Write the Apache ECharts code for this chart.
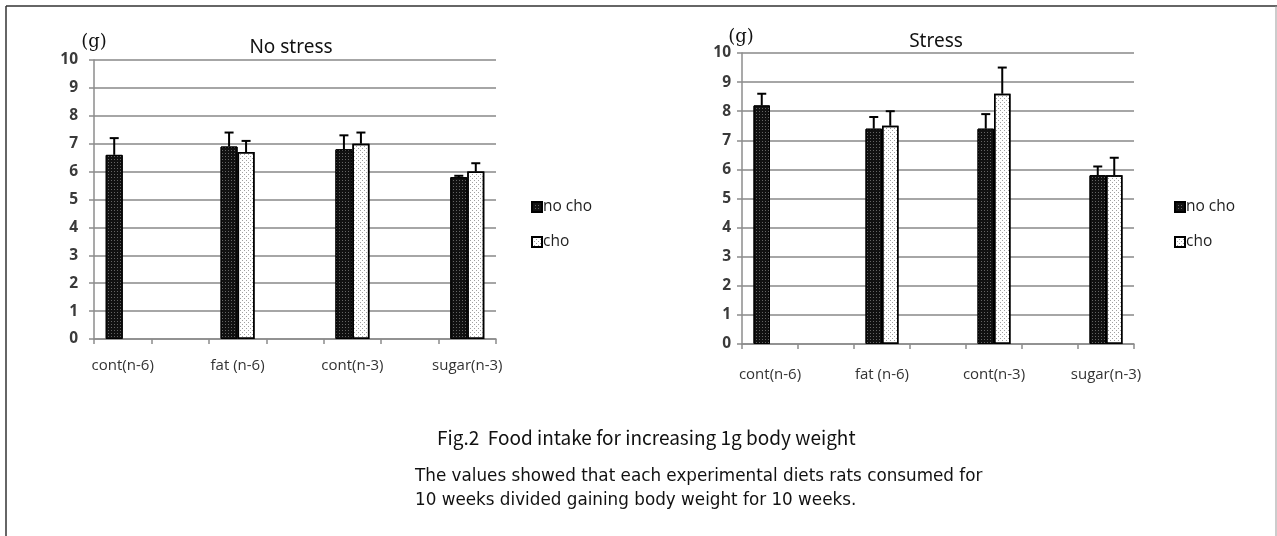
<!DOCTYPE html>
<html>
<head>
<meta charset="utf-8">
<script src="https://cdn.jsdelivr.net/npm/echarts@6/dist/echarts.min.js"></script>
<style>
  html, body { margin: 0; padding: 0; background: #fff; }
  #chart { width: 1277px; height: 536px; }
</style>
</head>
<body>
<div id="chart"></div>
<script>
// Diet groups shown along the x axis of both panels
const categories = ['cont(n-6)', 'fat (n-6)', 'cont(n-3)', 'sugar(n-3)'];
const seriesNames = ['no cho', 'cho'];

// No stress panel: mean food intake (g) and upper error
const noStressNoCho = [6.6, 6.9, 6.8, 5.8];
const noStressNoChoErr = [0.6, 0.5, 0.5, 0.05];
const noStressCho = [null, 6.7, 7.0, 6.0];
const noStressChoErr = [null, 0.4, 0.4, 0.3];

// Stress panel
const stressNoCho = [8.2, 7.4, 7.4, 5.8];
const stressNoChoErr = [0.4, 0.4, 0.5, 0.3];
const stressCho = [null, 7.5, 8.6, 5.8];
const stressChoErr = [null, 0.5, 0.9, 0.6];

const yMin = 0, yMax = 10, yStep = 1;

// Each group sits in its own band with an empty spacer band between groups
const axisCats = [];
categories.forEach((c, i) => { axisCats.push(c); if (i < categories.length - 1) axisCats.push(''); });
const spread = arr => {
  const out = [];
  arr.forEach((v, i) => { out.push(v); if (i < arr.length - 1) out.push(null); });
  return out;
};
const errData = (vals, errs) => vals.map((v, i) => (v == null || errs[i] == null) ? null : [i * 2, v, errs[i]])
  .filter(d => d !== null);

const labelFont = '"Open Sans", Lato, sans-serif';

const darkDecal = { symbol: 'rect', symbolSize: 1, color: 'rgba(110,110,110,0.9)', dashArrayX: [1, 2], dashArrayY: [1, 2], rotation: 0 };
const lightDecal = { symbol: 'rect', symbolSize: 1, color: 'rgba(120,120,120,0.7)', dashArrayX: [[1, 3], [0, 2, 1, 1]], dashArrayY: [1, 1], rotation: 0 };

function makeAxes(gridIndex, labelMargin, yLabelMargin) {
  const x = {
    type: 'category', gridIndex, data: axisCats, boundaryGap: true,
    axisLine: { show: true, lineStyle: { color: '#8c8c8c', width: 1.5 } },
    axisTick: { show: true, interval: 0, length: 5, lineStyle: { color: '#8c8c8c', width: 1.5 } },
    axisLabel: { interval: 0, margin: labelMargin, color: '#333', fontSize: 15, fontFamily: labelFont },
    splitLine: { show: false }
  };
  const y = {
    type: 'value', gridIndex, min: yMin, max: yMax, interval: yStep,
    axisLine: { show: true, lineStyle: { color: '#8c8c8c', width: 1.5 } },
    axisTick: { show: true, length: 5, lineStyle: { color: '#8c8c8c', width: 1.5 } },
    axisLabel: { margin: yLabelMargin, color: '#3a3a3a', fontSize: 15.5, fontWeight: 'bold', fontFamily: labelFont },
    splitLine: { show: true, lineStyle: { color: '#a6a6a6', width: 2 } }
  };
  return [x, y];
}

function barSeries(name, data, axisIdx, barW, dark) {
  return {
    name, type: 'bar', xAxisIndex: axisIdx, yAxisIndex: axisIdx,
    data: spread(data), barWidth: barW, barGap: '0%',
    itemStyle: dark
      ? { color: '#111', borderColor: '#000', borderWidth: 1, decal: darkDecal }
      : { color: '#fff', borderColor: '#000', borderWidth: 1.5, decal: lightDecal },
    emphasis: { disabled: true }, z: 2
  };
}

function errSeries(vals, errs, axisIdx, offset) {
  return {
    type: 'custom', xAxisIndex: axisIdx, yAxisIndex: axisIdx,
    data: errData(vals, errs), z: 5, silent: true,
    renderItem(params, api) {
      const base = api.coord([api.value(0), api.value(1)]);
      const top = api.coord([api.value(0), api.value(1) + api.value(2)]);
      const x = base[0] + offset;
      const style = { stroke: '#000', lineWidth: 2 };
      return {
        type: 'group', children: [
          { type: 'line', shape: { x1: x, y1: base[1], x2: x, y2: top[1] }, style },
          { type: 'line', shape: { x1: x - 4.5, y1: top[1], x2: x + 4.5, y2: top[1] }, style }
        ]
      };
    }
  };
}

const [x0, y0] = makeAxes(0, 19, 16);
const [x1, y1] = makeAxes(1, 23, 11);

const legendCommon = {
  orient: 'vertical', itemWidth: 10, itemHeight: 10, itemGap: 19, icon: 'rect',
  data: seriesNames, selectedMode: false,
  textStyle: { color: '#222', fontSize: 15.5, fontFamily: labelFont, padding: [0, 0, 0, -4] }
};

const option = {
  animation: false,
  backgroundColor: '#fff',
  grid: [
    { left: 94, top: 60, width: 402, height: 279 },
    { left: 742, top: 53, width: 392, height: 291 }
  ],
  xAxis: [x0, x1],
  yAxis: [y0, y1],
  legend: [
    Object.assign({ left: 526, top: 194 }, legendCommon),
    Object.assign({ left: 1169, top: 194 }, legendCommon)
  ],
  title: [
    { text: 'No stress', left: 286, top: 33, textAlign: 'center',
      textStyle: { fontSize: 19, fontWeight: 'normal', color: '#111', fontFamily: '"Noto Sans", sans-serif' } },
    { text: 'Stress', left: 931, top: 27, textAlign: 'center',
      textStyle: { fontSize: 19, fontWeight: 'normal', color: '#111', fontFamily: '"Noto Sans", sans-serif' } },
    { text: '(g)', left: 89, top: 28, textAlign: 'center',
      textStyle: { fontSize: 18, fontWeight: 'normal', color: '#111', fontFamily: '"DejaVu Serif", serif' } },
    { text: '(g)', left: 736, top: 23, textAlign: 'center',
      textStyle: { fontSize: 18, fontWeight: 'normal', color: '#111', fontFamily: '"DejaVu Serif", serif' } }
  ],
  graphic: [
    // frame around the figure
    { type: 'line', shape: { x1: 6, y1: 6, x2: 1277, y2: 6 }, style: { stroke: '#333', lineWidth: 1.5 } },
    { type: 'line', shape: { x1: 6, y1: 6, x2: 6, y2: 536 }, style: { stroke: '#333', lineWidth: 1.5 } },
    { type: 'line', shape: { x1: 1276, y1: 6, x2: 1276, y2: 536 }, style: { stroke: '#999', lineWidth: 1 } },
    { type: 'text', left: 437, top: 428,
      style: { text: 'Fig.2  Food intake for increasing 1g body weight', fill: '#111', fontSize: 19,
               fontFamily: '"Noto Sans CJK JP", sans-serif' } },
    { type: 'text', left: 415, top: 468,
      style: { text: 'The values showed that each experimental diets rats consumed for', fill: '#111', fontSize: 16.8,
               fontFamily: '"DejaVu Sans", sans-serif' } },
    { type: 'text', left: 415, top: 492,
      style: { text: '10 weeks divided gaining body weight for 10 weeks.', fill: '#111', fontSize: 16.8,
               fontFamily: '"DejaVu Sans", sans-serif' } }
  ],
  series: [
    barSeries(seriesNames[0], noStressNoCho, 0, 17, true),
    barSeries(seriesNames[1], noStressCho, 0, 17, false),
    errSeries(noStressNoCho, noStressNoChoErr, 0, -8.5),
    errSeries(noStressCho, noStressChoErr, 0, 8.5),
    barSeries(seriesNames[0], stressNoCho, 1, 16.5, true),
    barSeries(seriesNames[1], stressCho, 1, 16.5, false),
    errSeries(stressNoCho, stressNoChoErr, 1, -8.25),
    errSeries(stressCho, stressChoErr, 1, 8.25)
  ]
};

const chart = echarts.init(document.getElementById('chart'), null, { renderer: 'canvas' });
chart.setOption(option);
</script>
</body>
</html>
